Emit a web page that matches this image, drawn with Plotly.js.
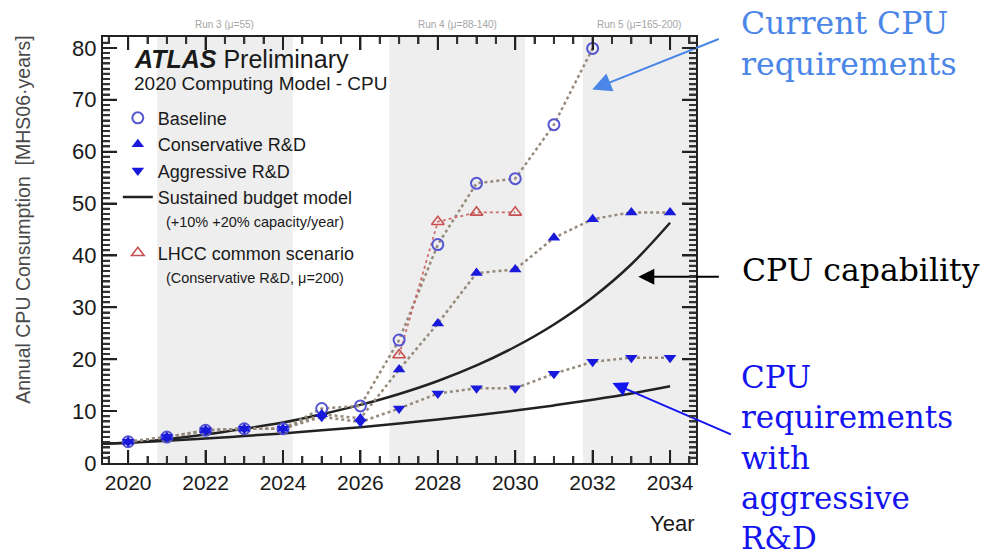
<!DOCTYPE html>
<html>
<head>
<meta charset="utf-8">
<script src="https://cdn.plot.ly/plotly-3.0.1.min.js"></script>
<style>html,body{margin:0;padding:0;background:#fff;}#chart{width:982px;height:555px;}</style>
</head>
<body>
<div id="chart"></div>
<script>
// ---- data ----
const years = [2020, 2021, 2022, 2023, 2024, 2025, 2026, 2027, 2028, 2029, 2030, 2031, 2032, 2033, 2034];
const baselineYears = [2020, 2021, 2022, 2023, 2024, 2025, 2026, 2027, 2028, 2029, 2030, 2031, 2032];
const baseline = [4.1, 5.0, 6.3, 6.6, 6.6, 10.5, 11.0, 23.7, 42.1, 53.9, 54.8, 65.2, 79.9];
const conservative = [4.1, 5.0, 6.3, 6.6, 6.6, 9.4, 8.6, 18.0, 26.9, 36.6, 37.3, 43.4, 47.0, 48.3, 48.3];
const aggressive = [4.1, 5.0, 6.3, 6.6, 6.6, 8.9, 7.9, 10.5, 13.4, 14.4, 14.4, 17.2, 19.5, 20.3, 20.3];
const lhccYears = [2027, 2028, 2029, 2030];
const lhcc = [20.8, 46.5, 48.3, 48.3];
const budgetYears = [2019.35, 2020, 2021, 2022, 2023, 2024, 2025, 2026, 2027, 2028, 2029, 2030, 2031, 2032, 2033, 2034];
const budget20 = [3.7, 3.9, 4.6, 5.5, 6.6, 7.8, 9.4, 11.2, 13.3, 15.8, 18.8, 22.4, 26.7, 31.9, 38.3, 46.3];
const budget10 = [3.7, 3.9, 4.3, 4.7, 5.2, 5.7, 6.3, 6.9, 7.6, 8.4, 9.2, 10.1, 11.1, 12.2, 13.4, 14.8];
const runStart = [2020.75, 2026.75, 2031.75];
const runEnd = [2024.25, 2030.25, 2034.67];
const runLabels = ['Run 3 (\u03bc=55)', 'Run 4 (\u03bc=88-140)', 'Run 5 (\u03bc=165-200)'];
const legendNames = ['Baseline', 'Conservative R&D', 'Aggressive R&D',
  'Sustained budget model<br><span style="font-size:14.5px">&nbsp;&nbsp;(+10% +20% capacity/year)</span>',
  'LHCC common scenario<br><span style="font-size:14.5px">&nbsp;&nbsp;(Conservative R&D, \u03bc=200)</span>'];
const xRange = [2019.35, 2034.67];
const yRange = [0, 82.1];

const connColor = 'rgb(150,138,125)';
const font = 'Liberation Sans, Arial, sans-serif';
const serif = 'DejaVu Serif, serif';

const traces = [
  // budget curves
  {x: budgetYears, y: budget20, mode: 'lines', line: {color: '#222', width: 2.5, shape: 'spline'}, showlegend: false, legendgroup: 'a'},
  {x: budgetYears, y: budget10, mode: 'lines', line: {color: '#222', width: 2.5, shape: 'spline'}, name: legendNames[3], legendrank: 4, legendgroup: 'a'},
  // connectors
  {x: baselineYears, y: baseline, mode: 'lines', line: {color: connColor, width: 2.5, dash: 'dot'}, showlegend: false},
  {x: years, y: conservative, mode: 'lines', line: {color: connColor, width: 2.5, dash: 'dot'}, showlegend: false},
  {x: years, y: aggressive, mode: 'lines', line: {color: connColor, width: 2.5, dash: 'dot'}, showlegend: false},
  {x: lhccYears, y: lhcc, mode: 'lines', line: {color: 'rgb(205,110,110)', width: 1.8, dash: 'dot'}, showlegend: false},
  // markers
  {x: baselineYears, y: baseline, mode: 'markers', name: legendNames[0], legendrank: 1, legendgroup: 'a',
   marker: {symbol: 'circle-open', size: 11, color: 'rgb(85,85,210)', line: {width: 2}}},
  {x: years, y: conservative, mode: 'markers', name: legendNames[1], legendrank: 2, legendgroup: 'a',
   marker: {symbol: 'triangle-up', size: 11, color: 'rgb(25,25,220)'}},
  {x: years, y: aggressive, mode: 'markers', name: legendNames[2], legendrank: 3, legendgroup: 'a',
   marker: {symbol: 'triangle-down', size: 11, color: 'rgb(25,25,220)'}},
  {x: lhccYears, y: lhcc, mode: 'markers', name: legendNames[4], legendrank: 5, legendgroup: 'b',
   marker: {symbol: 'triangle-up-open', size: 11, color: 'rgb(200,80,80)', line: {width: 1.6}}}
];

const shapes = runStart.map((s, i) => ({
  type: 'rect', xref: 'x', yref: 'y', x0: s, x1: runEnd[i], y0: yRange[0], y1: yRange[1],
  fillcolor: 'rgb(238,238,238)', line: {width: 0}, layer: 'between'
}));

const annotations = [];
runLabels.forEach((t, i) => annotations.push({
  text: t, xref: 'x', yref: 'paper', x: (runStart[i] + runEnd[i]) / 2, y: 1.012, yanchor: 'bottom',
  showarrow: false, font: {family: font, size: 10, color: 'rgb(165,165,165)'}
}));
annotations.push(
  {text: '<b><i>ATLAS</i></b> Preliminary', xref: 'paper', yref: 'paper', x: 0.049, y: 0.948,
   xanchor: 'left', yanchor: 'middle', showarrow: false, font: {family: font, size: 25, color: '#1a1a1a'}},
  {text: '2020 Computing Model - CPU', xref: 'paper', yref: 'paper', x: 0.049, y: 0.892,
   xanchor: 'left', yanchor: 'middle', showarrow: false, font: {family: font, size: 19, color: '#1a1a1a'}},
  {text: 'Annual CPU Consumption  [MHS06\u00b7years]', xref: 'paper', yref: 'paper', x: -0.135, y: 0.573,
   xanchor: 'center', yanchor: 'middle', textangle: -90, showarrow: false, font: {family: font, size: 19.5, color: '#4a4a4a'}},
  {text: 'Year', xref: 'paper', yref: 'paper', x: 1.0, y: -0.141, xanchor: 'right', yanchor: 'middle',
   showarrow: false, font: {family: font, size: 22, color: '#1a1a1a'}},
  // right side explanations
  {text: 'Current CPU<br>requirements', xref: 'paper', yref: 'paper', x: 1.072, y: 0.985, xanchor: 'left', yanchor: 'middle',
   align: 'left', showarrow: false, font: {family: serif, size: 31.5, color: 'rgb(74,134,232)'}},
  {text: 'CPU capability', xref: 'paper', yref: 'paper', x: 1.075, y: 0.453, xanchor: 'left', yanchor: 'middle',
   align: 'left', showarrow: false, font: {family: serif, size: 31.5, color: '#000'}},
  {text: 'CPU<br>requirements<br>with<br>aggressive<br>R&D', xref: 'paper', yref: 'paper', x: 1.072, y: 0.013, xanchor: 'left', yanchor: 'middle',
   align: 'left', showarrow: false, font: {family: serif, size: 31, color: 'rgb(20,20,240)'}},
  // arrows
  {text: '', xref: 'x', yref: 'y', x: 2031.99, y: 72.0, ax: 128, ay: -51, showarrow: true,
   arrowhead: 2, arrowsize: 1.9, arrowwidth: 2, arrowcolor: 'rgb(74,134,232)'},
  {text: '', xref: 'x', yref: 'y', x: 2033.18, y: 35.9, ax: 82, ay: 0, showarrow: true,
   arrowhead: 2, arrowsize: 1.6, arrowwidth: 2, arrowcolor: '#000'},
  {text: '', xref: 'x', yref: 'y', x: 2032.51, y: 15.4, ax: 120, ay: 52, showarrow: true,
   arrowhead: 2, arrowsize: 1.5, arrowwidth: 2, arrowcolor: 'rgb(20,20,240)'}
);

const layout = {
  width: 982, height: 555,
  margin: {l: 103, r: 286, t: 37, b: 92, pad: 0},
  font: {family: font},
  showlegend: true,
  legend: {x: 0.025, y: 0.853, xanchor: 'left', yanchor: 'top', bgcolor: 'rgba(255,255,255,0)',
           font: {family: font, size: 18, color: '#1a1a1a'}, valign: 'top', tracegroupgap: 6, traceorder: 'grouped'},
  xaxis: {range: xRange, tickmode: 'linear', tick0: 2020, dtick: 2, ticks: 'inside', ticklen: 13, tickwidth: 2, tickcolor: '#222',
          showline: true, linecolor: '#222', linewidth: 2, mirror: 'ticks', showgrid: false, zeroline: false,
          tickfont: {family: font, size: 21, color: '#1a1a1a'},
          minor: {dtick: 0.5, ticks: 'inside', ticklen: 7, tickwidth: 2, tickcolor: '#333'}},
  yaxis: {range: yRange, tickmode: 'linear', tick0: 0, dtick: 10, ticks: 'inside', ticklen: 14, tickwidth: 2, tickcolor: '#222',
          showline: true, linecolor: '#222', linewidth: 2, mirror: 'ticks', showgrid: false, zeroline: false,
          tickfont: {family: font, size: 22, color: '#1a1a1a'},
          minor: {dtick: 1, ticks: 'inside', ticklen: 7, tickwidth: 1.5, tickcolor: '#333'}},
  shapes: shapes,
  annotations: annotations
};

Plotly.newPlot('chart', traces, layout, {displayModeBar: false}).then(function(gd) {
  // Bring Plotly's own axis tick paths to the front so that nothing can hide them.
  const svgs = gd.querySelectorAll('svg.main-svg');
  const top = svgs[svgs.length - 1];
  const ns = 'http://www.w3.org/2000/svg';
  const g = document.createElementNS(ns, 'g');
  g.setAttribute('class', 'tick-front');
  gd.querySelectorAll('path.ticks').forEach(function(p) {
    const c = p.cloneNode(true);
    const cs = window.getComputedStyle(p);
    c.setAttribute('class', 'tick-clone');
    c.removeAttribute('style');
    c.setAttribute('stroke', cs.stroke && cs.stroke !== 'none' ? cs.stroke : '#222');
    c.setAttribute('stroke-width', parseFloat(cs.strokeWidth) >= 1 ? cs.strokeWidth : '2px');
    c.setAttribute('fill', 'none');
    c.setAttribute('opacity', '1');
    g.appendChild(c);
  });
  top.appendChild(g);
});
</script>
</body>
</html>
